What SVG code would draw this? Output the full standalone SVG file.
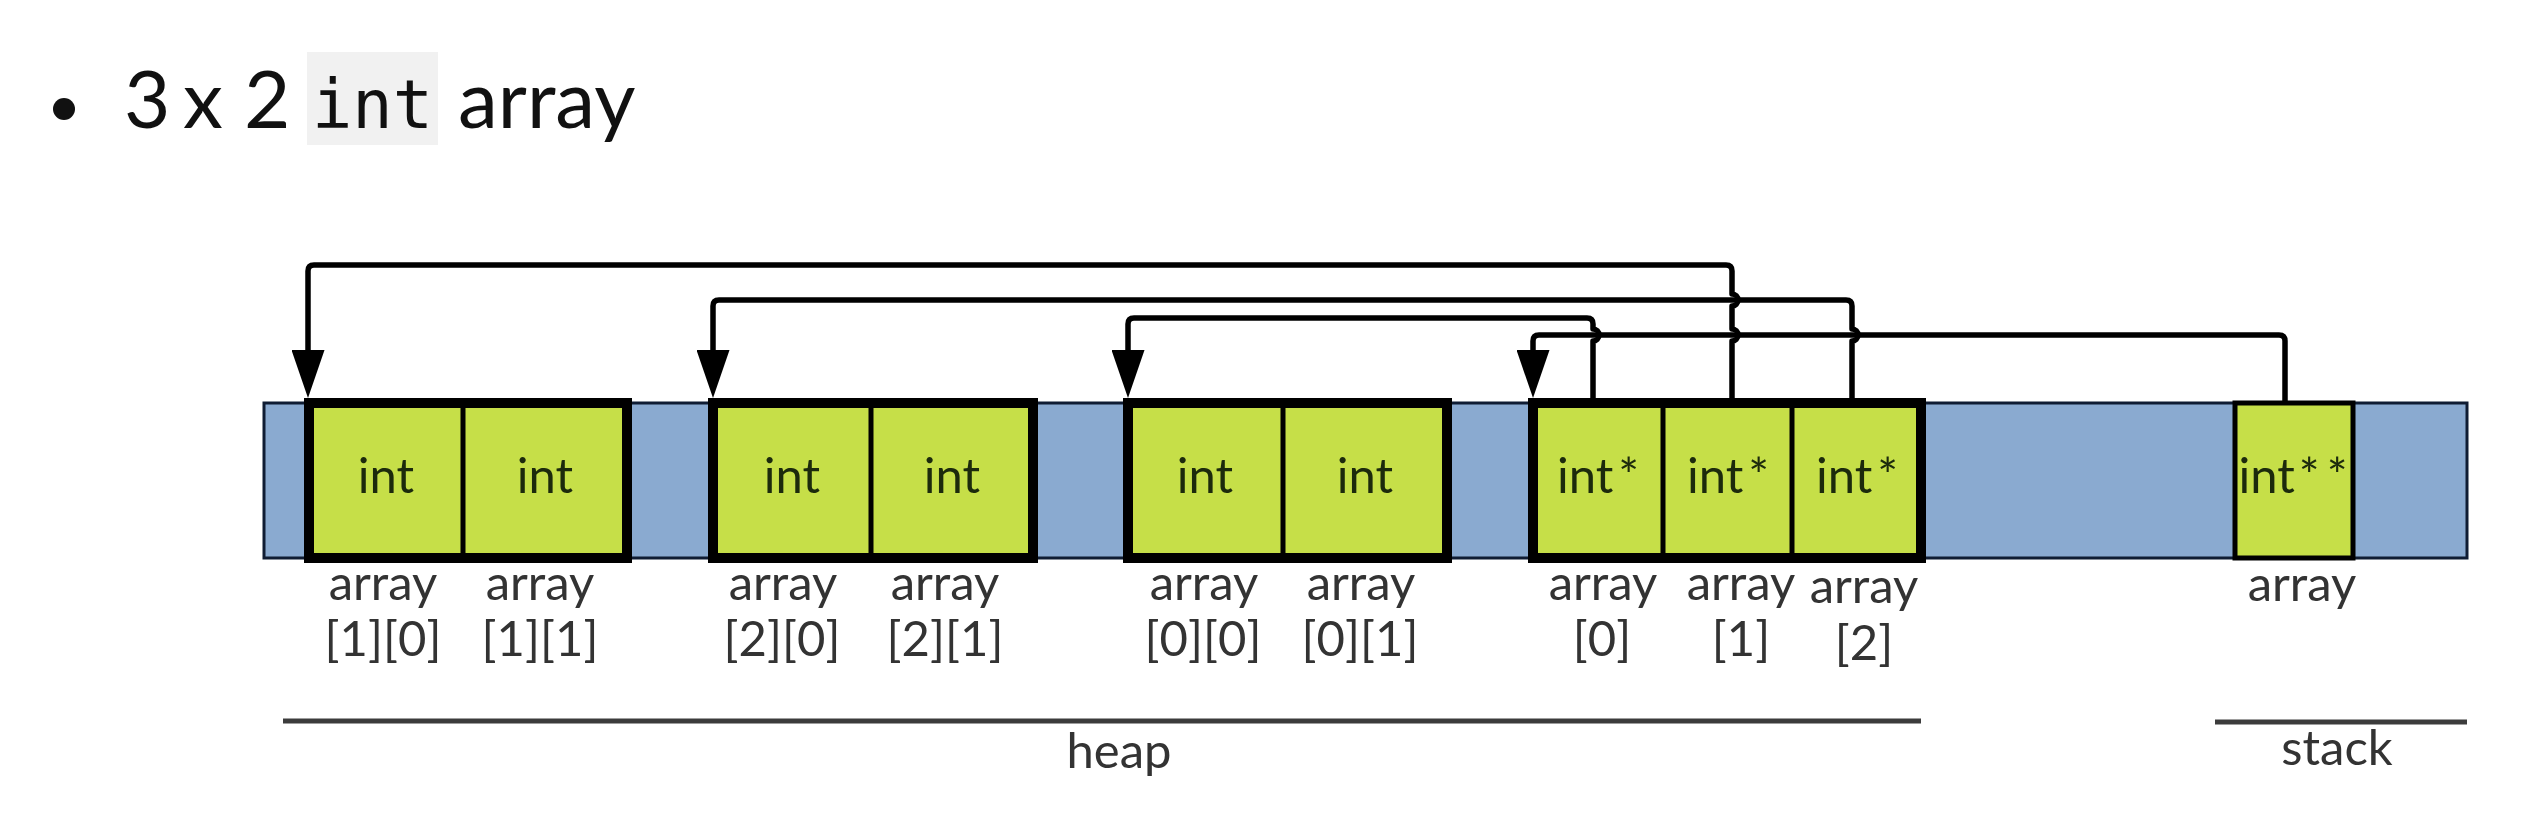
<svg xmlns="http://www.w3.org/2000/svg" width="2542" height="834" viewBox="0 0 2542 834">
<defs>
<style>
.title{font-family:Lato,"Liberation Sans",sans-serif;font-size:80px;fill:#111}
.mono{font-family:"DejaVu Sans Mono","Liberation Mono",monospace;font-size:67px;fill:#111}
.block{fill:#c6df48;stroke:#000;stroke-width:10}
.cell{fill:#c6df48;stroke:#000;stroke-width:5}
.div{stroke:#000;stroke-width:5}
.ct{font-family:Lato,"Liberation Sans",sans-serif;font-size:49px;fill:#1c2a0c;text-anchor:middle}
.lb{font-family:Lato,"Liberation Sans",sans-serif;font-size:49px;fill:#333;text-anchor:middle}
.conn{fill:none;stroke:#000;stroke-width:5.5;stroke-linejoin:round}
.rule{stroke:#3c3c3c;stroke-width:5}
</style>
<marker id="ah" markerUnits="userSpaceOnUse" viewBox="0 0 48 33" refX="35" refY="16.5" markerWidth="48" markerHeight="33" orient="auto">
<path d="M0,0 L48,16.5 L0,33 z" fill="#000"/>
</marker>
</defs>
<rect width="2542" height="834" fill="#fff"/>

<g id="title">
<circle cx="64" cy="109" r="11" fill="#111"/>
<text class="title" x="124" y="128">3</text>
<text class="title" x="183" y="128">x</text>
<text class="title" x="244" y="128">2</text>
<rect x="307" y="52" width="131" height="93" fill="#f1f1f1"/>
<text class="mono" x="312" y="128">int</text>
<text class="title" x="458" y="128">array</text>
</g>

<g id="memory-bar">
<rect x="264" y="403" width="2203" height="155" fill="#8aaad0" stroke="#0f1c33" stroke-width="3"/>
</g>

<g id="row1-block">
<rect class="block" x="309" y="403" width="318" height="155"/>
<line class="div" x1="463" y1="403" x2="463" y2="558"/>
<text class="ct" x="386" y="493">int</text>
<text class="ct" x="545" y="493">int</text>
<text class="lb" x="383" y="600">array</text>
<text class="lb" x="383" y="656">[1][0]</text>
<text class="lb" x="540" y="600">array</text>
<text class="lb" x="540" y="656">[1][1]</text>
</g>

<g id="row2-block">
<rect class="block" x="713" y="403" width="320" height="155"/>
<line class="div" x1="871" y1="403" x2="871" y2="558"/>
<text class="ct" x="792" y="493">int</text>
<text class="ct" x="952" y="493">int</text>
<text class="lb" x="783" y="600">array</text>
<text class="lb" x="782" y="656">[2][0]</text>
<text class="lb" x="945" y="600">array</text>
<text class="lb" x="945" y="656">[2][1]</text>
</g>

<g id="row0-block">
<rect class="block" x="1128" y="403" width="319" height="155"/>
<line class="div" x1="1283" y1="403" x2="1283" y2="558"/>
<text class="ct" x="1205" y="493">int</text>
<text class="ct" x="1365" y="493">int</text>
<text class="lb" x="1204" y="600">array</text>
<text class="lb" x="1203" y="656">[0][0]</text>
<text class="lb" x="1361" y="600">array</text>
<text class="lb" x="1360" y="656">[0][1]</text>
</g>

<g id="pointer-block">
<rect class="block" x="1533" y="403" width="388" height="155"/>
<line class="div" x1="1663" y1="403" x2="1663" y2="558"/>
<line class="div" x1="1792" y1="403" x2="1792" y2="558"/>
<text class="ct" x="1598" y="493">int<tspan dx="5">*</tspan></text>
<text class="ct" x="1728" y="493">int<tspan dx="5">*</tspan></text>
<text class="ct" x="1857" y="493">int<tspan dx="5">*</tspan></text>
<text class="lb" x="1603" y="600">array</text>
<text class="lb" x="1602" y="656">[0]</text>
<text class="lb" x="1741" y="600">array</text>
<text class="lb" x="1741" y="656">[1]</text>
<text class="lb" x="1864" y="603">array</text>
<text class="lb" x="1864" y="660">[2]</text>
</g>

<g id="stack-cell">
<rect class="cell" x="2235" y="403" width="118" height="155"/>
<text class="ct" x="2293" y="493">int<tspan dx="4">*</tspan><tspan dx="7">*</tspan></text>
<text class="lb" x="2302" y="601">array</text>
</g>

<g id="connectors">
<path class="conn" marker-end="url(#ah)" d="M1732,398 V341 a6,6 0 0 0 0,-12 V306 a6,6 0 0 0 0,-12 V271 Q1732,265 1726,265 H314 Q308,265 308,271 V385"/>
<path class="conn" marker-end="url(#ah)" d="M1852,398 V341 a6,6 0 0 0 0,-12 V306 Q1852,300 1846,300 H719 Q713,300 713,306 V385"/>
<path class="conn" marker-end="url(#ah)" d="M1593,398 V341 a6,6 0 0 0 0,-12 V324 Q1593,318 1587,318 H1134 Q1128,318 1128,324 V385"/>
<path class="conn" marker-end="url(#ah)" d="M2285,403 V341 Q2285,335 2279,335 H1539 Q1533,335 1533,341 V385"/>
</g>

<g id="heap-label">
<line class="rule" x1="283" y1="721" x2="1921" y2="721"/>
<text class="lb" x="1119" y="768">heap</text>
</g>

<g id="stack-label">
<line class="rule" x1="2215" y1="722" x2="2467" y2="722"/>
<text class="lb" x="2337" y="765">stack</text>
</g>
</svg>
